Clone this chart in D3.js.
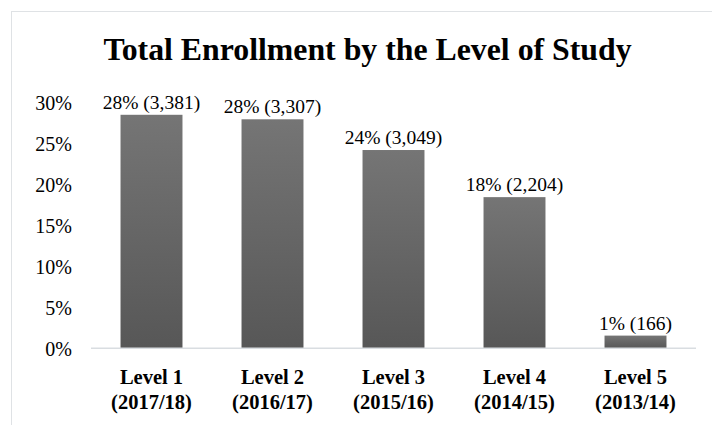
<!DOCTYPE html>
<html><head><meta charset="utf-8">
<script src="https://cdn.jsdelivr.net/npm/d3@7"></script>
<style>
html,body{margin:0;padding:0;background:#fff;}
svg{display:block;}
</style></head>
<body>
<svg id="chart" width="712" height="425"></svg>
<script>
const categories = ["Level 1|(2017/18)", "Level 2|(2016/17)", "Level 3|(2015/16)", "Level 4|(2014/15)", "Level 5|(2013/14)"];
const percentValues = [28.5, 27.95, 24.2, 18.45, 1.55];
const pctLabels = ["28%", "28%", "24%", "18%", "1%"];
const counts = [3381, 3307, 3049, 2204, 166];
const yTicks = [0, 5, 10, 15, 20, 25, 30];
const title = "Total Enrollment by the Level of Study";

const FONT = '"Liberation Serif", "Times New Roman", serif';
const svg = d3.select("#chart");
const W = 712, H = 425;
const m = {left: 91, right: 16, top: 102.5, bottom: 76.7};

// outer chart border
svg.append("rect").attr("x", 11.5).attr("y", 11.5).attr("width", W + 10).attr("height", H + 10)
  .attr("fill", "#fff").attr("stroke", "#dfe2e5").attr("stroke-width", 1);

const defs = svg.append("defs");
const grad = defs.append("linearGradient").attr("id", "barGrad").attr("x1", 0).attr("y1", 0).attr("x2", 0).attr("y2", 1);
grad.append("stop").attr("offset", "0%").attr("stop-color", "#757575");
grad.append("stop").attr("offset", "100%").attr("stop-color", "#575757");

const x = d3.scaleBand().domain(categories).range([m.left, W - m.right]).paddingInner(0.488).paddingOuter(0.244);
const y = d3.scaleLinear().domain([0, 30]).range([H - m.bottom, m.top]);

svg.append("text").attr("x", 367.5).attr("y", 60).attr("text-anchor", "middle")
  .style("font-family", FONT).style("font-size", "31.8px").style("font-weight", "bold")
  .attr("fill", "#000").text(title);

// y axis labels
const yAxis = d3.axisLeft(y).tickValues(yTicks).tickFormat(d => d + "%").tickSize(0).tickPadding(0);
const gy = svg.append("g").attr("transform", `translate(${72},0)`).call(yAxis);
gy.select(".domain").remove();
gy.selectAll("text").style("font-family", FONT).style("font-size", "20px").attr("fill", "#000").attr("dy", "0.35em");

// bars
const data = categories.map((c, i) => ({c, v: percentValues[i], p: pctLabels[i], n: counts[i]}));
svg.append("g").selectAll("rect").data(data).join("rect")
  .attr("x", d => x(d.c)).attr("width", x.bandwidth())
  .attr("y", d => y(d.v)).attr("height", d => y(0) - y(d.v))
  .attr("fill", "url(#barGrad)");

// baseline
svg.append("line").attr("x1", m.left).attr("x2", W - m.right).attr("y1", y(0)).attr("y2", y(0))
  .attr("stroke", "#d9dde1").attr("stroke-width", 1.5);

// data labels
svg.append("g").selectAll("text").data(data).join("text")
  .attr("x", d => x(d.c) + x.bandwidth() / 2).attr("y", d => y(d.v) - 6)
  .attr("text-anchor", "middle").style("font-family", FONT).style("font-size", "19.5px").attr("fill", "#000")
  .text(d => `${d.p} (${d3.format(",")(d.n)})`);

// category labels
const xAxis = d3.axisBottom(x).tickSize(0).tickFormat("");
const gx = svg.append("g").attr("transform", `translate(0,${y(0)})`).call(xAxis);
gx.select(".domain").remove();
gx.selectAll(".tick").each(function(d) {
  const t = d3.select(this).append("text").attr("text-anchor", "middle")
    .style("font-family", FONT).style("font-size", "20.5px").style("font-weight", "bold").attr("fill", "#000");
  d.split("|").forEach((s, i) => t.append("tspan").attr("x", 0).attr("y", 35.5 + i * 25.5).text(s));
});
</script>
</body></html>
